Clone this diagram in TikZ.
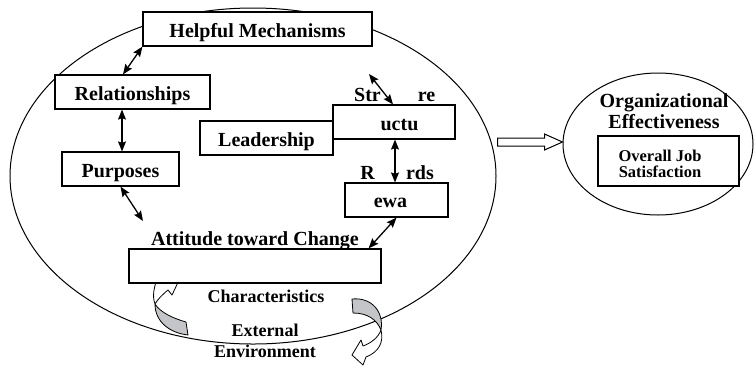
\documentclass[tikz,border=0pt]{standalone}
\usepackage{fontspec}
\setmainfont{Liberation Serif}
\usetikzlibrary{arrows.meta,calc,shapes.geometric}
\definecolor{ribbon}{RGB}{196,197,201}
\begin{document}
\begin{tikzpicture}[x=1pt,y=-1pt,
  lbl/.style={font=\fontsize{20}{22}\selectfont\bfseries, inner sep=0pt, anchor=base},
  lblsm/.style={font=\fontsize{18}{20}\selectfont\bfseries, inner sep=0pt, anchor=base},
  lbljob/.style={font=\fontsize{16.5}{18}\selectfont\bfseries, inner sep=0pt, anchor=base},
  box/.style={draw, line width=1.2pt, fill=white, inner sep=0pt, minimum height=34pt,
    font=\fontsize{20}{22}\selectfont\bfseries, text height=16pt, text depth=0pt},
  oval/.style={draw, line width=1pt, ellipse, inner sep=0pt},
  dbl/.style={{Stealth[length=10pt,width=8pt,inset=1.5pt]}-{Stealth[length=10pt,width=8pt,inset=1.5pt]}, line width=1.3pt},
  rib/.style={draw, line width=0.8pt, line join=round}
]
\useasboundingbox (0,0) rectangle (754,365);

% big ellipse
\node[oval, minimum width=486pt, minimum height=336pt] (bigell) at (253,176) {};

% curved ribbon arrows
\filldraw[rib, fill=ribbon] (155,304) .. controls (155,322) and (170,333) .. (188,335)
  -- (186,322) .. controls (172,318) and (160,312) .. (155,304) -- cycle;
\filldraw[rib, fill=white] (155,304) .. controls (152,296) and (154,287) .. (158,276)
  -- (182,274) -- (172,295) -- (168,290) .. controls (162,295) and (158,299) .. (155,304) -- cycle;

\filldraw[rib, fill=ribbon] (352,299) .. controls (372,297) and (384,312) .. (381,330)
  .. controls (377,320) and (368,313) .. (353,313) -- cycle;
\filldraw[rib, fill=white] (381,330) .. controls (384,342) and (379,352) .. (366,357)
  -- (363,365) -- (352,355) -- (361,340) -- (363,346)
  .. controls (371,343) and (378,338) .. (381,330) -- cycle;

% boxes
\node[box, minimum width=229pt] (helpful) at (257.5,29) {Helpful Mechanisms};
\node[box, minimum width=155pt] (relat) at (132.5,92) {Relationships};
\node[box, minimum width=133pt] (leader) at (266.5,138) {Leadership};
\node[box, minimum width=117pt] (purp) at (120.5,169) {Purposes};
\node[box, minimum width=122pt] (struct) at (394,122) {};
\node[box, minimum width=103pt] (rewards) at (396.5,200) {};
\node[box, minimum width=252pt] (attbox) at (255,266) {};

% split labels
\node[lbl] (str1) at (367.5,101) {Str};
\node[lbl] (str2) at (399.5,130) {uctu};
\node[lbl] (str3) at (426.5,101) {re};
\node[lbl] (rew1) at (367.5,179) {R};
\node[lbl] (rew2) at (390.5,207) {ewa};
\node[lbl] (rew3) at (420,179) {rds};
\node[lbl] (attlbl) at (255,245) {Attitude toward Change};
\node[lblsm] (charlbl) at (266,302) {Characteristics};
\node[lblsm] (extlbl) at (265,336) {External};
\node[lblsm] (envlbl) at (265,357) {Environment};

% connectors
\coordinate (pa) at (143,221);
\coordinate (sfree) at (369,74);
\draw[dbl] (helpful.south west) -- ([xshift=-9.5pt]relat.north);
\draw[dbl] ([xshift=1.5pt]purp.north |- relat.south) -- ([xshift=1.5pt]purp.north);
\draw[dbl] (purp.south) -- (pa);
\draw[dbl] (sfree) -- ([xshift=-1pt]struct.north);
\draw[dbl] ([xshift=1pt]struct.south) -- ([xshift=1pt]struct.south |- rewards.north);
\draw[dbl] (rewards.south) -- ([xshift=-13pt]attbox.north east);

% right ellipse
\node[oval, minimum width=190pt, minimum height=142pt] (orgell) at (658,144) {};
\node[box, minimum width=141pt, minimum height=50pt] (jobbox) at (668.5,161) {};
\node[lbl] (org1) at (664,107) {Organizational};
\node[lbl] (org2) at (664,128) {Effectiveness};
\node[lbljob] (job1) at (660,161) {Overall Job};
\node[lbljob] (job2) at (660,177) {Satisfaction};

% open arrow
\path ([yshift=2pt]orgell.west) coordinate (oatip);
\draw[line width=1pt, fill=white, line join=miter] (oatip) -- ++(-18,8) -- ++(0,-4) -- ++(-47,0)
  -- ++(0,-8) -- ++(47,0) -- ++(0,-4) -- cycle;
\end{tikzpicture}
\end{document}
